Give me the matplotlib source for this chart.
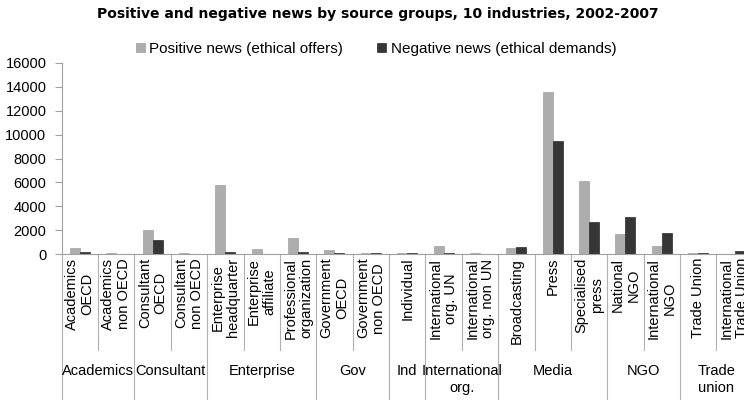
"""Positive and negative news by source groups - bar chart."""

import numpy as np
import matplotlib
matplotlib.use('Agg')
import matplotlib.pyplot as plt
from matplotlib.transforms import blended_transform_factory

plt.rcParams['font.family'] = ['Liberation Sans', 'DejaVu Sans']

categories = ['Academics\nOECD', 'Academics\nnon OECD', 'Consultant\nOECD',
              'Consultant\nnon OECD', 'Enterprise\nheadquarter', 'Enterprise\naffiliate',
              'Professional\norganization', 'Government\nOECD', 'Government\nnon OECD',
              'Individual', 'International\norg. UN', 'International\norg. non UN',
              'Broadcasting', 'Press', 'Specialised\npress', 'National\nNGO',
              'International\nNGO', 'Trade Union', 'International\nTrade Union']
positive = [480, 110, 2030, 100, 5800, 390, 1350, 300, 80, 80, 700, 60,
            470, 13600, 6090, 1660, 700, 80, 0]
negative = [140, 20, 1150, 0, 200, 20, 200, 100, 100, 100, 100, 0,
            590, 9470, 2700, 3090, 1740, 100, 280]
groups = ['Academics', 'Consultant', 'Enterprise', 'Gov', 'Ind',
          'International\norg.', 'Media', 'NGO', 'Trade\nunion']
group_sizes = [2, 2, 3, 2, 1, 2, 3, 2, 2]

fig = plt.figure(figsize=(7.44, 4.0), dpi=100)
ax = fig.add_axes([61.7/744, 146/400, (744-61.7)/744, 191/400])

x = np.arange(len(categories))
w = 0.275
b1 = ax.bar(x - w/2, positive, w, color='#ADADAD', edgecolor='#A0A0A0', linewidth=0.5,
            label='Positive news (ethical offers)')
b2 = ax.bar(x + w/2, negative, w, color='#363636', edgecolor='#2A2A2A', linewidth=0.5,
            label='Negative news (ethical demands)')

ax.set_ylim(0, 16000)
ax.set_yticks(np.arange(0, 16001, 2000))
ax.set_xlim(-0.5, -0.5 + (744-61.7)/36.37)
ax.set_xticks([])
for s in ['top', 'right']:
    ax.spines[s].set_visible(False)
for s in ['left', 'bottom']:
    ax.spines[s].set_color('#A0A0A0')
ax.tick_params(axis='y', length=5, color='#A0A0A0', labelsize=10.5, pad=6)

trans = blended_transform_factory(ax.transData, ax.transAxes)

# category labels (rotated, two lines)
for i, c in enumerate(categories):
    ax.text(i, -0.02, c, rotation=90, ha='center', va='top', multialignment='center',
            fontsize=10.5, transform=trans, clip_on=False, linespacing=1.15)

# dividers: long at group edges, short inside groups
edges = np.cumsum([0] + group_sizes)
for k in range(len(categories) + 1):
    y_end = -0.85 if k in edges else -0.50
    ax.plot([k - 0.5, k - 0.5], [0, y_end], color='#B0B0B0', lw=0.8,
            transform=trans, clip_on=False)

# group labels
for g, start, n in zip(groups, edges[:-1], group_sizes):
    ax.text(start - 0.5 + n/2, -0.575, g, ha='center', va='top', fontsize=10.5,
            transform=trans, clip_on=False, linespacing=1.3)

fig.text(378/744, 1 - 14/400, 'Positive and negative news by source groups, 10 industries, 2002-2007',
         ha='center', va='center', fontsize=10, fontweight='bold', family='DejaVu Sans')
fig.legend(handles=[b1, b2], loc='center', bbox_to_anchor=(376/744, 1 - 49/400),
           ncol=2, frameon=False, fontsize=11, handlelength=0.6, handleheight=0.6,
           handletextpad=0.3, columnspacing=2.2)

fig.savefig('out.png', dpi=100)
